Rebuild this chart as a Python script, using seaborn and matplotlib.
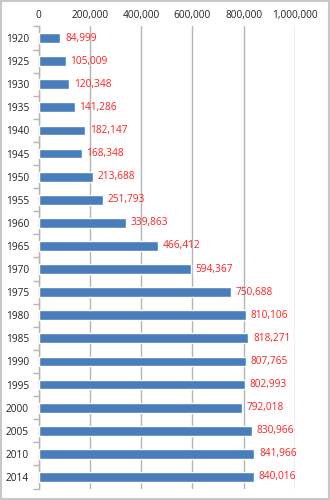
import matplotlib
matplotlib.use("Agg")
import matplotlib.pyplot as plt
from matplotlib.patches import Rectangle
from matplotlib.ticker import FuncFormatter, FixedLocator
import seaborn as sns
import pandas as pd

years = ["1920", "1925", "1930", "1935", "1940", "1945", "1950", "1955", "1960", "1965",
         "1970", "1975", "1980", "1985", "1990", "1995", "2000", "2005", "2010", "2014"]
population = [84999, 105009, 120348, 141286, 182147, 168348, 213688, 251793, 339863, 466412,
              594367, 750688, 810106, 818271, 807765, 802993, 792018, 830966, 841966, 840016]
x_ticks = [0, 200000, 400000, 600000, 800000, 1000000]

df = pd.DataFrame({"year": years, "population": population})

sns.set_style("white")
plt.rcParams["font.family"] = ["Open Sans", "DejaVu Sans"]

fig = plt.figure(figsize=(3.3, 5.0), dpi=100)
ax = fig.add_axes([0.117, 0.023, 0.777, 0.924])

sns.barplot(data=df, x="population", y="year", orient="h", color="#4A7EBB",
            width=0.42, saturation=1, ax=ax, zorder=3)

ax.set_xlim(0, 1000000)
ax.set_ylim(19.5, -0.5)
ax.set_xlabel("")
ax.set_ylabel("")

ax.xaxis.set_major_locator(FixedLocator(x_ticks))
ax.xaxis.set_major_formatter(FuncFormatter(lambda v, p: f"{int(v):,}"))
ax.xaxis.tick_top()
ax.tick_params(axis="x", length=0, pad=4, labelsize=7.3, colors="#222222")
ax.grid(axis="x", color="#b4b4b4", linewidth=1, zorder=0)

ax.yaxis.set_minor_locator(FixedLocator([i - 0.5 for i in range(len(years) + 1)]))
ax.tick_params(axis="y", which="major", length=0, pad=7, labelsize=7.3, colors="#222222")
ax.tick_params(axis="y", which="minor", length=4, width=1, color="#b4b4b4", left=True)

for side in ["top", "right", "bottom"]:
    ax.spines[side].set_visible(False)
ax.spines["left"].set_color("#b4b4b4")
ax.spines["left"].set_linewidth(1)

for i, v in enumerate(population):
    ax.text(v + 18000, i, f"{v:,}", va="center", ha="left", color="#FF2020", fontsize=7.3)

fig.patches.append(Rectangle((0.003, 0.002), 0.994, 0.996, transform=fig.transFigure,
                             fill=False, edgecolor="#c8c8c8", linewidth=1.5))

fig.savefig("out.png", dpi=100, facecolor="white")
